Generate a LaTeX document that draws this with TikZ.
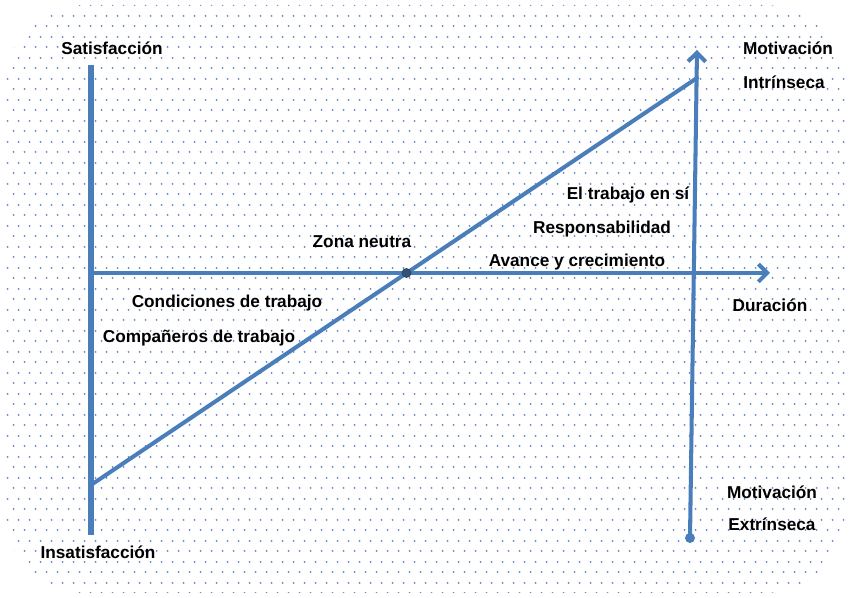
\documentclass[tikz,border=0pt]{standalone}
\usepackage{fontspec}
\setmainfont{Liberation Sans}
\usetikzlibrary{arrows.meta,patterns.meta}
\definecolor{lineblue}{RGB}{74,126,187}
\definecolor{dotblue}{RGB}{105,140,200}
\definecolor{knotblue}{RGB}{52,82,120}
\tikzdeclarepattern{name=gapdots,type=uncolored,
  bounding box={(0,0) and (0.22,0.42)},tile size={(0.22,0.42)},
  code={\fill (0.055,0.105) circle (0.022); \fill (0.165,0.315) circle (0.022);}}
\tikzset{
  axis/.style={lineblue,line width=2.3pt},
  tag/.style={font=\bfseries\fontsize{9.8}{11}\selectfont,inner sep=1pt},
}
\begin{document}
\begin{tikzpicture}[x=1cm,y=1cm,scale=1,line cap=round,line join=round,>={Straight Barb[length=5pt,width=10pt]}]
	\useasboundingbox (0,0) rectangle (17,11.96);
	\path[pattern=gapdots,pattern color=dotblue,rounded corners=1.6cm] (0.1,0.1) rectangle (16.9,11.86);
	\path (1.82,10.66)coordinate(top) (1.82,1.26)coordinate(bottom)
		(1.82,6.5)coordinate(origin) (15.4,6.5)coordinate(time)
		(1.82,2.26)coordinate(low) (13.94,10.4)coordinate(high)
		(13.8,1.2)coordinate(extr) (13.94,10.96)coordinate(intr)
		(8.13,6.5)coordinate(neutral);
	\draw[axis,line width=3.2pt,line cap=butt] (bottom)--(top);
	\draw[axis,->] (origin)--(time);
	\draw[axis] (low)--(high);
	\draw[axis,->] (extr)--(intr);
	\fill[lineblue] (extr) circle (0.1);
	\filldraw[knotblue,draw=knotblue!80!black] (neutral) circle (0.09);
	% textos
	\node[tag] (sat) at (2.24,11.0) {Satisfacción};
	\node[tag] (insat) at (1.96,0.92) {Insatisfacción};
	\node[tag] (mi1) at (15.76,11.0) {Motivación};
	\node[tag] (mi2) at (15.68,10.32) {Intrínseca};
	\node[tag] (si) at (12.56,8.06) {El trabajo en sí};
	\node[tag] (resp) at (12.04,7.38) {Responsabilidad};
	\node[tag] (av) at (11.54,6.72) {Avance y crecimiento};
	\node[tag] (zona) at (7.24,7.12) {Zona neutra};
	\node[tag] (cond) at (4.54,5.9) {Condiciones de trabajo};
	\node[tag] (comp) at (3.98,5.2) {Compañeros de trabajo};
	\node[tag] (dur) at (15.4,5.86) {Duración};
	\node[tag] (me1) at (15.44,2.12) {Motivación};
	\node[tag] (me2) at (15.44,1.48) {Extrínseca};
\end{tikzpicture}
\end{document}
